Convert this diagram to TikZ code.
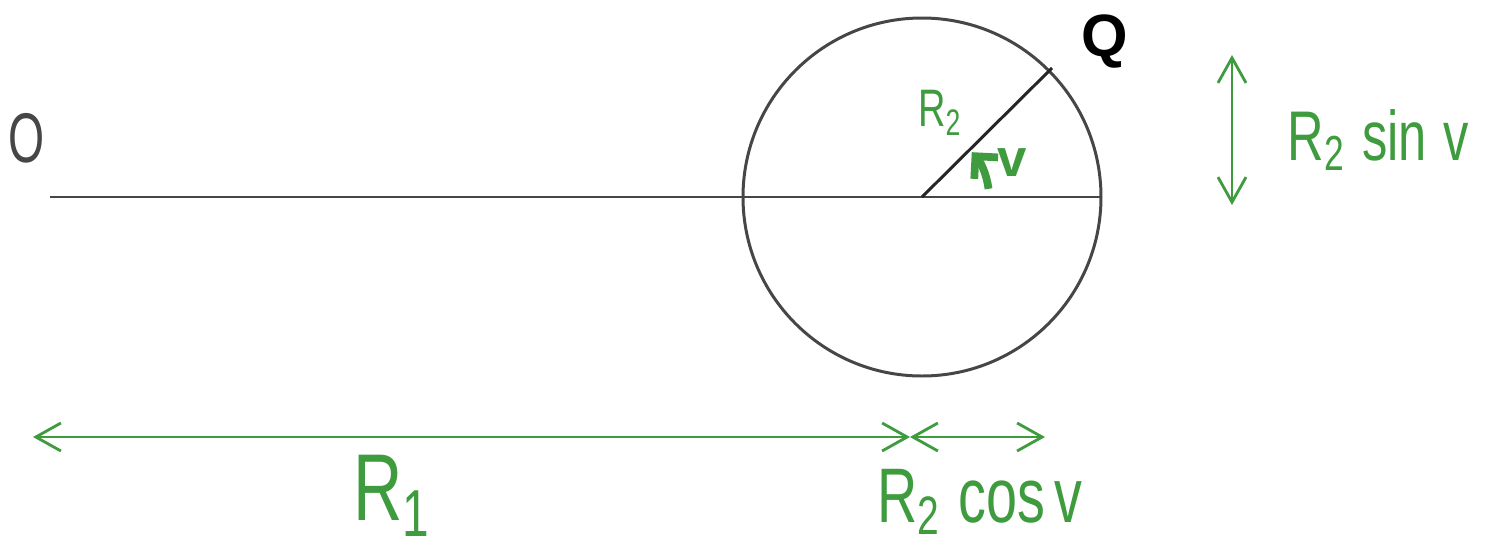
\documentclass[tikz,border=0pt]{standalone}
\usepackage{fontspec}
\usepackage{graphicx}
\setmainfont{Liberation Sans}
\usetikzlibrary{arrows.meta}
\definecolor{pen}{RGB}{62,155,62}
\definecolor{ink}{RGB}{70,70,70}
\tikzset{
  geo/.style={draw=ink, line width=0.85pt},
  dim/.style={draw=pen, line width=0.8pt, {Straight Barb[length=2.5mm,width=2.8mm]}-{Straight Barb[length=2.5mm,width=2.8mm]}},
  glabel/.style={text=pen, inner sep=0pt, font=\fontsize{#1}{#1}\selectfont},
  glabel/.default=16
}
\newcommand{\narrowtxt}[1]{\scalebox{0.72}[1]{#1}}
\newcommand{\slimtxt}[1]{\scalebox{0.66}[1]{#1}}
\begin{document}
\begin{tikzpicture}[x=0.01cm,y=-0.01cm]
\useasboundingbox (0,0) rectangle (1499,545);
% geometry
\coordinate (lineL) at (50,197);
\coordinate (C) at (922,197);
\coordinate (lineR) at (1101,197);
\coordinate (P) at (1052,68);
\draw[geo] (lineL) -- (lineR);
\draw[geo] (C) circle (179);
\draw[geo, draw=black!85] (C) -- (P);
% labels
\node[inner sep=0pt, text=ink, font=\fontsize{20}{20}\selectfont] (O) at (27,138) {\slimtxt{O}};
\node[inner sep=0pt, font=\bfseries\fontsize{17}{17}\selectfont] (Q) at (1105,42) {Q};
\node[glabel=15] (R2) at (940,113) {\narrowtxt{R\textsubscript{2}}};
% angle arrow
\draw[pen, line width=2.2pt, -{Straight Barb[length=1.6mm,width=3.2mm]}]
  (C) ++(-7:67) arc[start angle=-7, end angle=-42, radius=67];
\node[text=pen, inner sep=0pt, font=\bfseries\fontsize{15}{15}\selectfont] (v) at (1012,163) {v};
% vertical dimension
\coordinate (vt) at (1232,55);
\coordinate (vb) at (1232,205);
\draw[dim] (vb) -- (vt);
\node[glabel=20, anchor=west] (sinlab) at (1287,140) {\narrowtxt{R\textsubscript{2}\,\,sin\,\,v}};
% horizontal dimensions
\coordinate (h0) at (33,437);
\coordinate (h1) at (910,437);
\coordinate (h2) at (1045,437);
\draw[dim] (h0) -- (h1);
\draw[dim] (h1) -- (h2);
\node[glabel=27] (R1) at (392,496) {\narrowtxt{R\textsubscript{1}}};
\node[glabel=22] (coslab) at (980,502) {\narrowtxt{R\textsubscript{2}\,\,cos\,v}};
\end{tikzpicture}
\end{document}
